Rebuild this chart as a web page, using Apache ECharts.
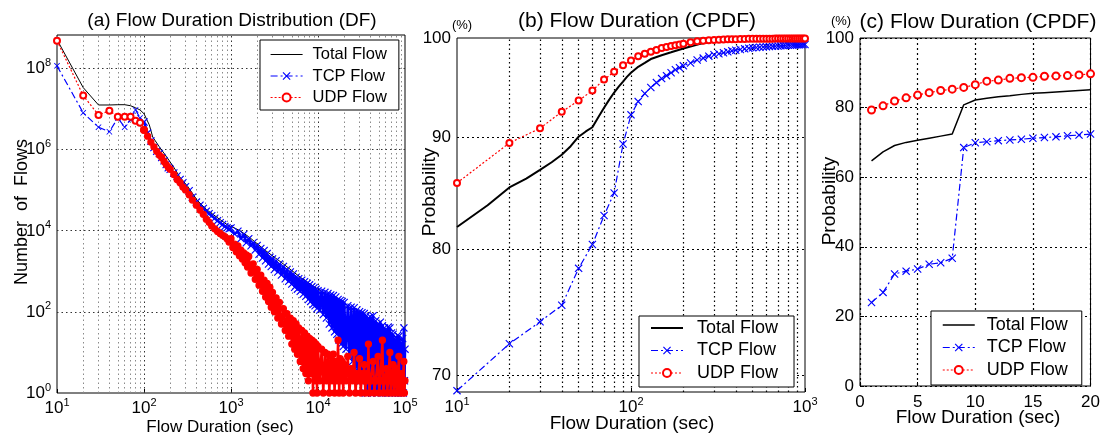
<!DOCTYPE html>
<html><head><meta charset="utf-8">
<script src="https://cdn.jsdelivr.net/npm/echarts@6/dist/echarts.min.js"></script>
<style>html,body{margin:0;padding:0;background:#fff}#c{width:1103px;height:436px}</style>
</head><body><div id="c"></div>
<script>
// ================= DATA =================
const seriesNames = ['Total Flow', 'TCP Flow', 'UDP Flow'];

// Panel (a): Flow Duration Distribution (DF) — [duration (sec), number of flows]
const aTotal = [[10,5.0e8],[20,3.3e7],[30,1.23e7],[40,1.23e7],[50,1.25e7],[60,1.25e7],[70,1.18e7],[80,1.05e7],[90,9.3e6],[100,7.5e6],[115,4.0e6],[126,2.0e6],[150,1.15e6],[182,6.5e5],[220,3.6e5],[257,2.1e5],[320,1.2e5],[407,5.6e4],[520,3.3e4],[692,2.1e4],[900,1.4e4],[1260,1.0e4],[1600,7.0e3],[2500,3.2e3],[4000,1.5e3],[6300,700],[10000,360],[16000,190],[25000,100],[40000,55],[63000,30],[100000,18]];
const aTCP = [[10,1.13e8],[20,7.9e6],[30,3.5e6],[40,2.7e6],[50,5.9e6],[60,3.5e6],[70,5.3e6],[80,9.3e6],[90,5.9e6],[100,4.7e6],[110,2.5e6],[120,1.6e6],[130,1.1e6],[140,8.9e5],[150,7.9e5],[160,6.3e5],[170,5.2e5],[180,4.2e5],[190,3.5e5],[200,3.2e5],[220,2.6e5],[240,2.2e5],[260,1.8e5],[280,1.5e5],[300,1.2e5],[330,9.5e4],[360,6.6e4],[400,5.0e4],[440,4.2e4],[480,3.5e4],[520,3.0e4],[560,2.6e4],[600,2.3e4],[650,2.0e4],[700,1.75e4],[750,1.55e4],[800,1.4e4],[850,1.25e4],[900,1.17e4],[950,1.1e4],
  [1000,1.15e4],[1100,8200],[1200,9600],[1300,6300],[1400,8000],[1500,5000],[1600,6300],[1700,4200],[1800,5000],[1900,3300],[2000,4300],[2100,2600],[2200,3600],[2300,2100],[2400,3200],[2500,1800],[2600,2700],[2700,1500],[2800,2200],[2900,1300],[3000,2000],[3150,1100],[3300,1800],[3450,950],[3600,1500],[3800,800],[4000,1300],[4200,650],[4400,1100],[4600,560],[4800,950],[5000,480],[5200,850],[5400,400],[5600,710],[5800,360],[6000,650],[6250,320],[6500,600],[6750,270],[7000,550],[7250,240],[7500,500],[7750,200],[8000,460],[8250,180],[8500,420],[8750,150],[9000,390],[9250,140],[9500,360],[9750,120],[10000,330],[10500,110],[11000,320],[11500,85],[12000,300],[12500,70],[13000,280],[13500,50],[14000,260],[14500,40],[15000,250],[15500,32],[16000,230],[16500,28],[17000,200],[17500,20],[18000,190],[18500,16],[19000,180],[19500,14],[20000,170],[21000,12],[22000,140],[23000,8],[24000,130],[25000,6],[26000,125],[27000,4],[28000,110],[29000,3],[30000,100],[31000,2],[32000,95],[33000,2],[34000,90],[35000,1],[36000,80],[37000,1],[38000,70],[39000,3],[40000,75],[41500,1],[43000,80],[44500,2],[46000,60],[47500,1],[49000,50],[50500,2],[52000,55],[53500,1],[55000,45],[56500,3],[58000,40],[59500,1],[61000,35],[62500,2],[64000,42],[65500,1],[67000,40],[68500,3],[70000,30],[71500,1],[73000,28],[74500,2],[76000,22],[77500,1],[79000,20],[80500,3],[82000,26],[83500,1],[85000,25],[86500,4],[88000,18],[89500,1],[91000,16],[92500,2],[94000,22],[95500,1],[97000,40],[98500,2],[100000,12]];
const aUDP = [[10,4.7e8],[20,2.1e7],[30,7.0e6],[40,8.9e6],[50,6.3e6],[60,6.3e6],[70,6.3e6],[80,5.0e6],[90,4.5e6],[100,3.0e6],[110,2.1e6],[120,1.5e6],[130,1.15e6],[140,8.9e5],[150,7.2e5],[160,6.3e5],[170,5.0e5],[180,4.2e5],[190,3.6e5],[200,3.2e5],[220,2.4e5],[240,1.8e5],[260,1.5e5],[280,1.17e5],[300,1.0e5],[330,7.6e4],[360,5.6e4],[400,4.2e4],[440,3.2e4],[480,2.5e4],[520,1.9e4],[560,1.6e4],[600,1.3e4],[650,1.1e4],[700,9500],[750,8500],[800,7600],[850,7100],[900,6300],[950,5200],
  [1000,6300],[1050,3800],[1100,4600],[1150,3000],[1200,4200],[1250,2400],[1300,3300],[1350,2000],[1400,2800],[1450,1600],[1500,2500],[1550,1260],[1600,2300],[1700,900],[1800,1500],[1900,630],[2000,1100],[2100,450],[2200,800],[2300,320],[2400,600],[2500,230],[2600,500],[2700,180],[2800,400],[2900,130],[3000,300],[3150,100],[3300,220],[3450,70],[3600,170],[3800,50],[4000,120],[4200,35],[4400,90],[4600,25],[4800,70],[5000,16],[5200,60],[5400,12],[5600,50],[5800,9],[6000,40],[6250,6],[6500,35],[6750,4],[7000,30],[7250,3],[7500,25],[7750,2],[8000,22],[8250,3],[8500,20],[8750,1],[9000,18],[9250,2],[9500,16],[9750,1],[10000,14],[10500,2],[11000,12],[11500,1],[12000,10],[12500,2],[13000,9],[13500,1],[14000,8],[14500,2],[15000,9],[15500,1],[16000,6],[16500,2],[17000,20],[17500,1],[18000,7],[18500,2],[19000,6],[19500,1],[20000,5],[21000,2],[22000,8],[23000,1],[24000,4],[25000,2],[26000,10],[27000,1],[28000,3],[29000,2],[30000,7],[31000,1],[32000,3],[33000,2],[34000,5],[35000,1],[36000,3],[37000,2],[38000,16],[39000,1],[40000,2],[41500,2],[43000,6],[44500,1],[46000,2],[47500,2],[49000,8],[50500,1],[52000,2],[53500,2],[55000,20],[56500,1],[58000,2],[59500,2],[61000,4],[62500,1],[64000,2],[65500,2],[67000,10],[68500,1],[70000,2],[71500,2],[73000,5],[74500,1],[76000,2],[77500,2],[79000,4],[80500,1],[82000,2],[83500,2],[85000,8],[86500,1],[88000,2],[89500,2],[91000,3],[92500,1],[94000,2],[95500,2],[97000,6],[98500,1],[100000,2]];

// Panel (b): Flow Duration CPDF (%) vs duration (sec), log-log
const bTotalX = [10,15,20,25,30,35,40,45,50,55,60,65,70,75,80,85,90,95,100,110,120,130,150,170,200,250,300,400,500,700,1000];
const bTotalY = [81.9,83.8,85.4,86.2,87.0,87.7,88.4,89.2,90.1,90.6,91.0,92.0,92.9,93.7,94.4,95.0,95.5,96.0,96.4,97.0,97.4,97.8,98.2,98.5,98.9,99.4,99.65,99.8,99.87,99.93,99.97];
const bTCPX = [10,20,30,40,50,60,70,80,90,100,110,120,130,140,150,160,170,180,190,200,220,240,260,280,300,320,340,360,380,400,425,450,475,500,525,550,575,600,625,650,675,700,725,750,775,800,825,850,875,900,925,950,975,1000];
const bTCPY = [68.9,72.4,74.1,75.4,78.4,80.4,82.9,84.9,89.4,92.2,93.5,94.3,94.9,95.4,95.8,96.1,96.4,96.7,96.9,97.1,97.4,97.7,97.9,98.1,98.25,98.35,98.45,98.55,98.65,98.72,98.8,98.86,98.92,98.97,99.0,99.03,99.06,99.08,99.1,99.12,99.14,99.16,99.18,99.2,99.21,99.23,99.24,99.25,99.27,99.28,99.29,99.3,99.31,99.32];
const bUDPX = [10,20,30,40,50,60,70,80,90,100,110,120,130,140,150,160,170,180,190,200,220,240,260,280,300,320,340,360,380,400,425,450,475,500,525,550,575,600,625,650,675,700,725,750,775,800,825,850,875,900,925,950,975,1000];
const bUDPY = [85.8,89.5,90.9,92.5,93.6,94.6,95.7,96.5,97.15,97.65,98.1,98.35,98.55,98.75,98.95,99.05,99.15,99.25,99.32,99.4,99.55,99.65,99.72,99.77,99.8,99.82,99.84,99.86,99.87,99.88,99.89,99.9,99.91,99.91,99.92,99.92,99.92,99.93,99.93,99.93,99.94,99.94,99.94,99.94,99.95,99.95,99.95,99.95,99.95,99.96,99.96,99.96,99.96,99.96];

// Panel (c): Flow Duration CPDF (%) vs duration (sec), linear
const cX = [1,2,3,4,5,6,7,8,9,10,11,12,13,14,15,16,17,18,19,20];
const cTotal = [64.7,67.3,69.1,70.0,70.6,71.2,71.8,72.4,80.8,82.2,82.7,83.1,83.4,83.8,84.1,84.3,84.5,84.7,84.9,85.1];
const cTCP = [24.0,26.9,32.2,33.0,33.6,35.0,35.4,36.7,68.5,69.9,70.2,70.5,70.7,70.9,71.2,71.4,71.6,71.9,72.1,72.4];
const cUDP = [79.3,80.5,81.9,82.8,83.6,84.3,84.9,85.3,85.8,86.6,87.6,87.9,88.4,88.6,88.7,89.0,89.1,89.2,89.4,89.7];

// Tick / grid values
const aYGridTicks = [1e2, 1e4, 1e6, 1e8];
const bYTicks = [70, 80, 90, 100];
const decadesA = [10, 100, 1000, 10000];
const decadesB = [10, 100];

// ================= STYLE =================
const FONT = '"Liberation Sans", Arial, Helvetica, sans-serif';
const BLUE = '#0000ff', RED = '#ff0000', BLACK = '#000000';
const X_SYMBOL = 'path://M0,1L1,0L5,4L9,0L10,1L6,5L10,9L9,10L5,6L1,10L0,9L4,5Z';
const NO_SYMBOL = 'path://M0,0L1,1';
const DASHDOT = [7, 3, 2, 3];
const DOTS = [2, 2];

function zipXY(xs, ys) { return xs.map((x, i) => [x, ys[i]]); }
const headOf = (arr) => arr.filter(p => p[0] <= 100);
const bodyOf = (arr) => arr.filter(p => p[0] >= 100);

const RICH = {
  b: { fontSize: 17, color: '#000', fontFamily: FONT, verticalAlign: 'bottom', lineHeight: 18 },
  s: { fontSize: 11, color: '#000', fontFamily: FONT, verticalAlign: 'bottom', lineHeight: 11, padding: [0, 0, 9, 0] }
};
function powLabel(v) {
  const l = Math.log10(v), e = Math.round(l);
  if (Math.abs(l - e) > 1e-6) return '';
  return '{b|10}{s|' + e + '}';
}
function evenPowLabel(v) {
  const l = Math.log10(v), e = Math.round(l);
  if (Math.abs(l - e) > 1e-6 || e % 2 !== 0) return '';
  return '{b|10}{s|' + e + '}';
}

function vLines(decades, lastMax, majorColor, minorColor, width) {
  const out = [];
  decades.forEach(d => {
    for (let k = 1; k <= 9; k++) {
      const v = k * d;
      if (v <= decades[0] || v >= lastMax) continue;
      out.push({ xAxis: v, lineStyle: { color: k === 1 ? majorColor : minorColor, width: width, type: [1.5, 3] } });
    }
  });
  return out;
}
function gridSeries(idx, lines) {
  return {
    type: 'line', name: '_grid' + idx, xAxisIndex: idx, yAxisIndex: idx, data: [],
    silent: true, z: 1,
    markLine: { silent: true, symbol: ['none', 'none'], z: 1, animation: false,
      label: { show: false }, lineStyle: { color: '#000', width: 1, type: [1.5, 3] }, data: lines }
  };
}

const linesA = vLines(decadesA, 1e5, '#333', '#8a8a8a', 1)
  .concat(aYGridTicks.map(v => ({ yAxis: v, lineStyle: { color: '#333', width: 1, type: [1.5, 3] } })));
const linesB = vLines(decadesB, 1000, '#000', '#000', 1.2)
  .concat(bYTicks.map(v => ({
    yAxis: v,
    lineStyle: { color: v === 100 ? 'rgba(0,0,0,0)' : '#000', width: 1.2, type: [2, 3] },
    label: { show: true, position: 'start', formatter: String(v), color: '#000', fontSize: 17, fontFamily: FONT, distance: 6 }
  })));

function lineSeries(name, idx, data, opts) {
  return Object.assign({
    name: name, type: 'line', xAxisIndex: idx, yAxisIndex: idx, data: data,
    animation: false, z: 3, clip: true
  }, opts);
}

const totalStyle = (w) => ({ symbol: NO_SYMBOL, showSymbol: false, lineStyle: { color: BLACK, width: w }, itemStyle: { color: BLACK, borderWidth: 0 }, z: 2 });
const tcpStyle = (s, w, t) => ({ symbol: X_SYMBOL, symbolSize: s, showSymbol: true, lineStyle: { color: BLUE, width: w, type: t || DASHDOT }, itemStyle: { color: BLUE, borderWidth: 0 }, z: 3 });
const udpStyle = (s, w, t, bw, sym) => ({ symbol: sym || 'emptyCircle', symbolSize: s, showSymbol: true, lineStyle: { color: RED, width: w, type: t || DOTS }, itemStyle: { color: RED, borderWidth: bw || 1.3, borderColor: RED }, z: 4 });

function legendFor(left, top, fontSize, pad, textPad, totalW) {
  return {
    orient: 'vertical', left: left, top: top, padding: pad, itemGap: 4.5,
    itemWidth: 32, itemHeight: 10, backgroundColor: '#fff', borderColor: '#000', borderWidth: 1,
    borderRadius: 0, selectedMode: false, z: 10,
    textStyle: { fontFamily: FONT, fontSize: fontSize, color: '#000', padding: [0, 0, 0, textPad] },
    data: [
      { name: 'Total Flow', lineStyle: { width: totalW } },
      { name: 'TCP Flow', lineStyle: { type: DASHDOT, width: 1.2 } },
      { name: 'UDP Flow', lineStyle: { type: DOTS, width: 1.2 } }
    ]
  };
}

function txt(x, y, text, size, rot) {
  return { type: 'text', x: x, y: y, rotation: rot || 0, silent: true,
    style: { text: text, font: size + 'px ' + FONT, fill: '#000', align: 'center', verticalAlign: 'middle',
      textAlign: 'center', textVerticalAlign: 'middle' } };
}

const axisCommon = { axisLine: { show: false }, splitLine: { show: false } };

const option = {
  animation: false,
  backgroundColor: '#fff',
  textStyle: { fontFamily: FONT },
  grid: [
    { left: 57, top: 35, width: 348, height: 358, show: true, borderColor: '#000', borderWidth: 1, backgroundColor: '#fff' },
    { left: 457, top: 38, width: 348, height: 354, show: true, borderColor: '#000', borderWidth: 1, backgroundColor: '#fff' },
    { left: 860, top: 38, width: 233, height: 348, show: true, borderColor: '#000', borderWidth: 1, backgroundColor: '#fff' }
  ],
  xAxis: [
    Object.assign({ gridIndex: 0, type: 'log', logBase: 10, min: 10, max: 1e5,
      axisTick: { show: true, inside: true, length: 4, lineStyle: { color: '#000' } },
      axisLabel: { interval: 0, formatter: powLabel, rich: RICH, margin: 6 } }, axisCommon),
    Object.assign({ gridIndex: 1, type: 'log', logBase: 10, min: 10, max: 1000,
      axisTick: { show: true, inside: true, length: 4, lineStyle: { color: '#000' } },
      axisLabel: { interval: 0, formatter: powLabel, rich: RICH, margin: 6 } }, axisCommon),
    { gridIndex: 2, type: 'value', min: 0, max: 20, interval: 5, axisLine: { show: false },
      axisTick: { show: true, inside: true, length: 4, lineStyle: { color: '#000' } },
      splitLine: { show: true, lineStyle: { color: '#000', width: 1.2, type: [2, 3] } },
      axisLabel: { fontSize: 17, color: '#000', fontFamily: FONT, margin: 8 } }
  ],
  yAxis: [
    Object.assign({ gridIndex: 0, type: 'log', logBase: 10, min: 1, max: 6.5e8,
      axisTick: { show: false },
      axisLabel: { interval: 0, formatter: evenPowLabel, rich: RICH, margin: 6 } }, axisCommon),
    Object.assign({ gridIndex: 1, type: 'log', logBase: 10, min: 68.8, max: 100,
      axisTick: { show: false }, axisLabel: { show: false } }, axisCommon),
    { gridIndex: 2, type: 'value', min: 0, max: 100, interval: 20, axisLine: { show: false },
      axisTick: { show: true, inside: true, length: 4, lineStyle: { color: '#000' } },
      splitLine: { show: true, lineStyle: { color: '#000', width: 1.2, type: [2, 3] } },
      axisLabel: { fontSize: 17, color: '#000', fontFamily: FONT, margin: 6 } }
  ],
  legend: [
    legendFor(260, 40, 16.5, [6, 12, 4, 10], 5, 1),
    legendFor(639, 316, 18, [3, 16, 5, 11], 9, 2),
    legendFor(931, 311, 18, [5, 14, 6, 11], 7, 1.5)
  ],
  graphic: [
    txt(232, 21, '(a) Flow Duration Distribution (DF)', 19),
    txt(637, 21, '(b) Flow Duration (CPDF)', 21),
    txt(978, 22, '(c) Flow Duration (CPDF)', 21),
    txt(462, 25, '(%)', 13),
    txt(841, 21, '(%)', 13),
    txt(22, 212, 'Number  of  Flows', 18, Math.PI / 2),
    txt(430, 192, 'Probability', 19, Math.PI / 2),
    txt(830, 201, 'Probability', 19, Math.PI / 2),
    txt(220, 427, 'Flow Duration (sec)', 17),
    txt(632, 424, 'Flow Duration (sec)', 19),
    txt(978, 418, 'Flow Duration (sec)', 19)
  ],
  series: [
    gridSeries(0, linesA),
    gridSeries(1, linesB),
    lineSeries(seriesNames[0], 0, aTotal, totalStyle(1)),
    lineSeries(seriesNames[1], 0, headOf(aTCP), tcpStyle(6, 1.2)),
    lineSeries(seriesNames[1], 0, bodyOf(aTCP), tcpStyle(8, 2.6, 'solid')),
    lineSeries(seriesNames[2], 0, headOf(aUDP), udpStyle(6, 1.2, DOTS, 2)),
    lineSeries(seriesNames[2], 0, bodyOf(aUDP), udpStyle(6, 2.4, 'solid', 0, 'circle')),
    lineSeries(seriesNames[0], 1, zipXY(bTotalX, bTotalY), totalStyle(2)),
    lineSeries(seriesNames[1], 1, zipXY(bTCPX, bTCPY), tcpStyle(8, 1.2)),
    lineSeries(seriesNames[2], 1, zipXY(bUDPX, bUDPY), udpStyle(6, 1.2)),
    lineSeries(seriesNames[0], 2, zipXY(cX, cTotal), totalStyle(1.5)),
    lineSeries(seriesNames[1], 2, zipXY(cX, cTCP), tcpStyle(8, 1.2)),
    lineSeries(seriesNames[2], 2, zipXY(cX, cUDP), udpStyle(7, 1.2))
  ]
};

const chart = echarts.init(document.getElementById('c'), null, { renderer: 'canvas' });
chart.setOption(option);
</script>
</body></html>
